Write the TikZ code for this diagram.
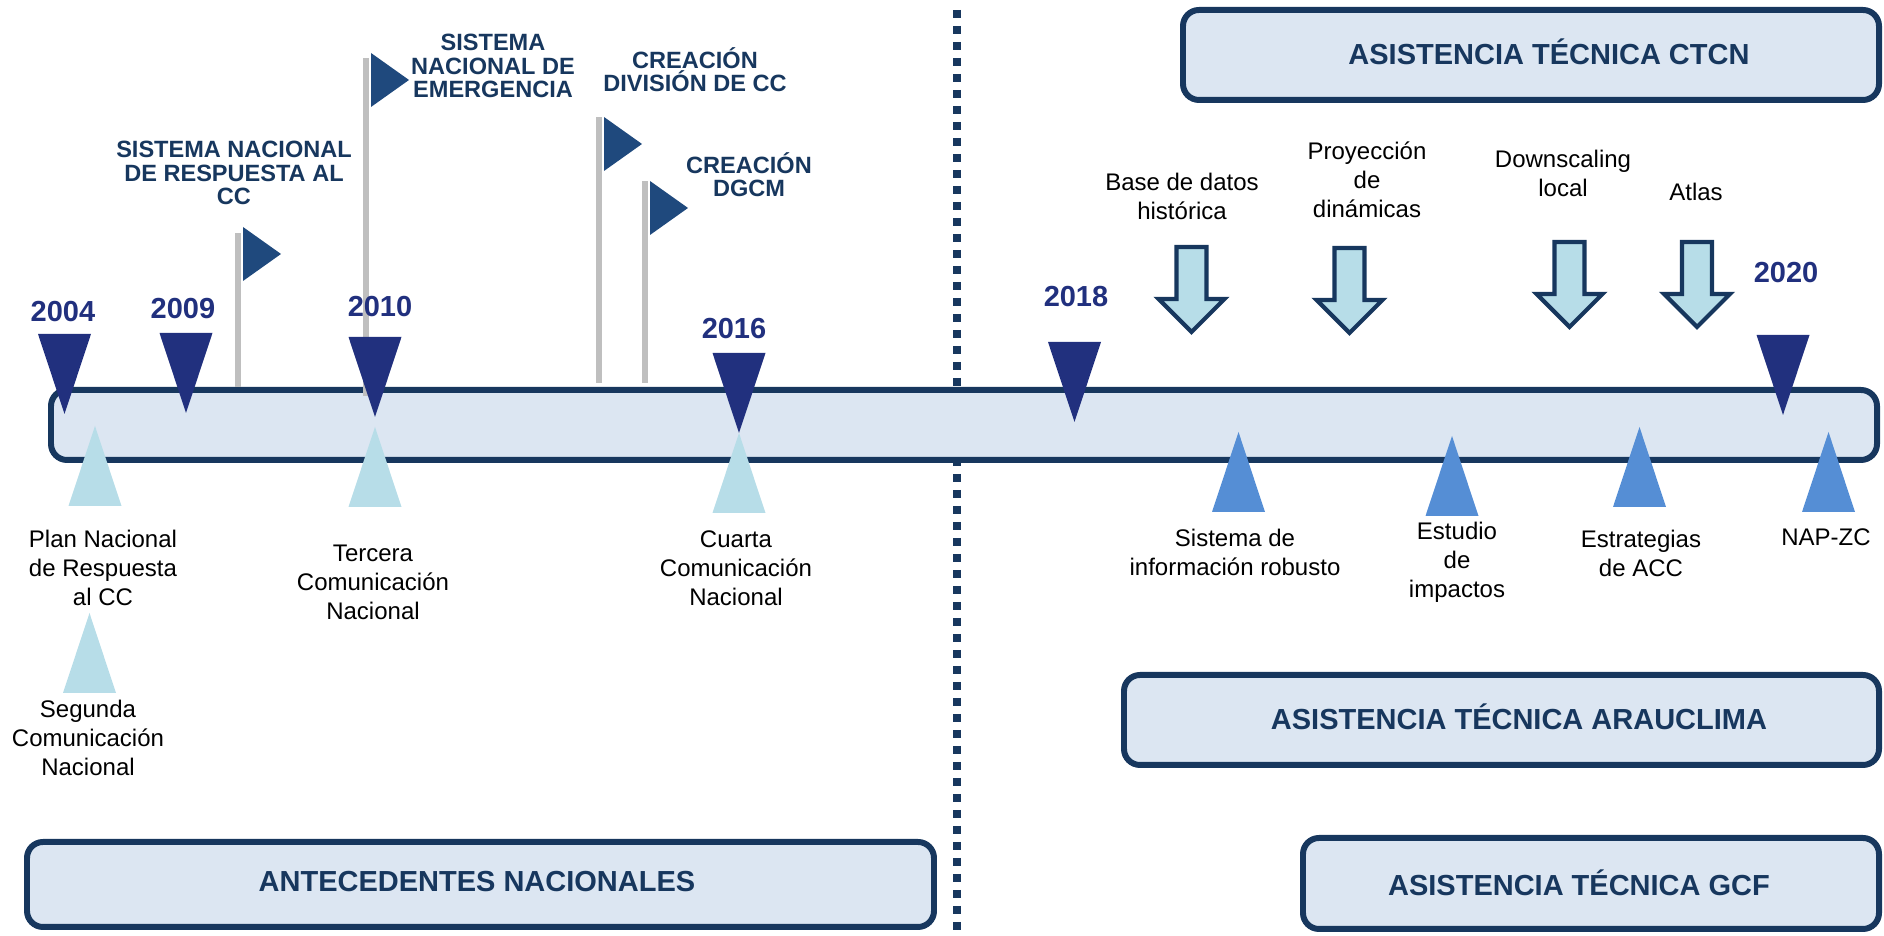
\documentclass[tikz,border=0pt]{standalone}
\usepackage{fontspec}
\setmainfont{Liberation Sans}
\definecolor{navy}{HTML}{17375E}
\definecolor{panelfill}{HTML}{DCE6F2}
\definecolor{yearblue}{HTML}{21307E}
\definecolor{flagblue}{HTML}{1F497D}
\definecolor{polegray}{HTML}{BFBFBF}
\definecolor{lightmark}{HTML}{B7DDE8}
\definecolor{midmark}{HTML}{558ED5}
\tikzset{
  panel/.style={draw=navy, fill=panelfill, line width=1.7pt, rounded corners=0.16cm},
  boxlbl/.style={font=\bfseries\fontsize{8.25}{9}\selectfont, text=navy},
  yearlbl/.style={font=\bfseries\fontsize{8.25}{9}\selectfont, text=yearblue},
  flaglbl/.style={font=\bfseries\fontsize{6.7}{6.6}\selectfont, text=navy, align=center},
  itemlbl/.style={font=\fontsize{6.83}{8.25}\selectfont, align=center},
  blockarrow/.style={draw=navy, fill=lightmark, line width=1.2pt, miter limit=10},
  pole/.style={draw=polegray, line width=1.7pt}
}
\begin{document}
\begin{tikzpicture}
    \useasboundingbox (0, 0) rectangle (18.84, 9.36);

    % Divider
    \draw[navy, line width=2.3pt, dash pattern=on 0.08cm off 0.08cm] (9.57, 9.26) -- (9.57, 0);

    % Timeline bar
    \draw[panel] (0.51, 4.76) rectangle (18.77, 5.46);

    % Flags
    \foreach \x/\b/\t/\f in {2.38/5.49/7.03/7.09, 3.66/5.40/8.78/8.83, 5.99/5.53/8.19/8.19, 6.45/5.53/7.55/7.55} {
        \draw[pole] (\x, \b) -- (\x, \t);
        \fill[flagblue] (\x+0.05, \f) -- (\x+0.43, \f-0.27) -- (\x+0.05, \f-0.54) -- cycle;
    }
    \node[flaglbl] (flagA) at (2.34, 7.63) {SISTEMA NACIONAL\\DE RESPUESTA AL\\CC};
    \node[flaglbl] (flagB) at (4.93, 8.70) {SISTEMA\\NACIONAL DE\\EMERGENCIA};
    \node[flaglbl] (flagC) at (6.95, 8.665) {CREACIÓN\\DIVISIÓN DE CC};
    \node[flaglbl] (flagD) at (7.49, 7.615) {CREACIÓN\\DGCM};

    % Year markers
    \foreach \x/\y in {0.645/6.02, 1.86/6.03, 3.75/5.99, 7.39/5.83, 10.745/5.94, 17.83/6.01}
        \fill[yearblue] (\x-0.265, \y) -- (\x+0.265, \y) -- (\x, \y-0.8) -- cycle;
    \node[yearlbl] (y2004) at (0.63, 6.24) {2004};
    \node[yearlbl] (y2009) at (1.83, 6.27) {2009};
    \node[yearlbl] (y2010) at (3.80, 6.29) {2010};
    \node[yearlbl] (y2016) at (7.34, 6.07) {2016};
    \node[yearlbl] (y2018) at (10.76, 6.39) {2018};
    \node[yearlbl] (y2020) at (17.86, 6.63) {2020};

    % National milestones
    \foreach \x/\y in {0.95/4.30, 3.75/4.29, 7.39/4.23, 0.895/2.43}
        \fill[lightmark] (\x-0.265, \y) -- (\x+0.265, \y) -- (\x, \y+0.8) -- cycle;
    \node[itemlbl] (plan) at (1.03, 3.68) {Plan Nacional\\de Respuesta\\al CC};
    \node[itemlbl] (segunda) at (0.88, 1.98) {Segunda\\Comunicación\\Nacional};
    \node[itemlbl] (tercera) at (3.73, 3.54) {Tercera\\Comunicación\\Nacional};
    \node[itemlbl] (cuarta) at (7.36, 3.68) {Cuarta\\Comunicación\\Nacional};

    % Technical assistance results
    \foreach \x/\y in {12.385/4.24, 14.52/4.20, 16.395/4.29, 18.285/4.24}
        \fill[midmark] (\x-0.265, \y) -- (\x+0.265, \y) -- (\x, \y+0.8) -- cycle;
    \node[itemlbl] (sistinfo) at (12.35, 3.84) {Sistema de\\información robusto};
    \node[itemlbl] (estudio) at (14.57, 3.74) {Estudio\\de\\impactos};
    \node[itemlbl] (estrat) at (16.41, 3.83) {Estrategias\\de ACC};
    \node[itemlbl] (napzc) at (18.26, 3.99) {NAP-ZC};

    % CTCN products
    \foreach \x/\y in {11.915/6.89, 13.495/6.88, 15.695/6.94, 16.97/6.94}
        \draw[blockarrow] (\x-0.15, \y) -- (\x+0.15, \y) -- (\x+0.15, \y-0.52) -- (\x+0.33, \y-0.52)
            -- (\x, \y-0.85) -- (\x-0.33, \y-0.52) -- (\x-0.15, \y-0.52) -- cycle;
    \node[itemlbl] (basedatos) at (11.82, 7.40) {Base de datos\\histórica};
    \node[itemlbl] (proyeccion) at (13.67, 7.56) {Proyección\\de\\dinámicas};
    \node[itemlbl] (downscaling) at (15.63, 7.63) {Downscaling\\local};
    \node[itemlbl] (atlas) at (16.96, 7.44) {Atlas};

    % Panels
    \draw[panel] (11.83, 8.36) rectangle (18.79, 9.26);
    \node[boxlbl] (ctcn) at (15.49, 8.84) {ASISTENCIA TÉCNICA CTCN};
    \draw[panel] (11.24, 1.71) rectangle (18.79, 2.61);
    \node[boxlbl] (arauclima) at (15.19, 2.19) {ASISTENCIA TÉCNICA ARAUCLIMA};
    \draw[panel] (13.03, 0.07) rectangle (18.79, 0.98);
    \node[boxlbl] (gcf) at (15.79, 0.53) {ASISTENCIA TÉCNICA GCF};
    \draw[panel] (0.27, 0.09) rectangle (9.34, 0.94);
    \node[boxlbl] (antec) at (4.77, 0.54) {ANTECEDENTES NACIONALES};
\end{tikzpicture}
\end{document}
